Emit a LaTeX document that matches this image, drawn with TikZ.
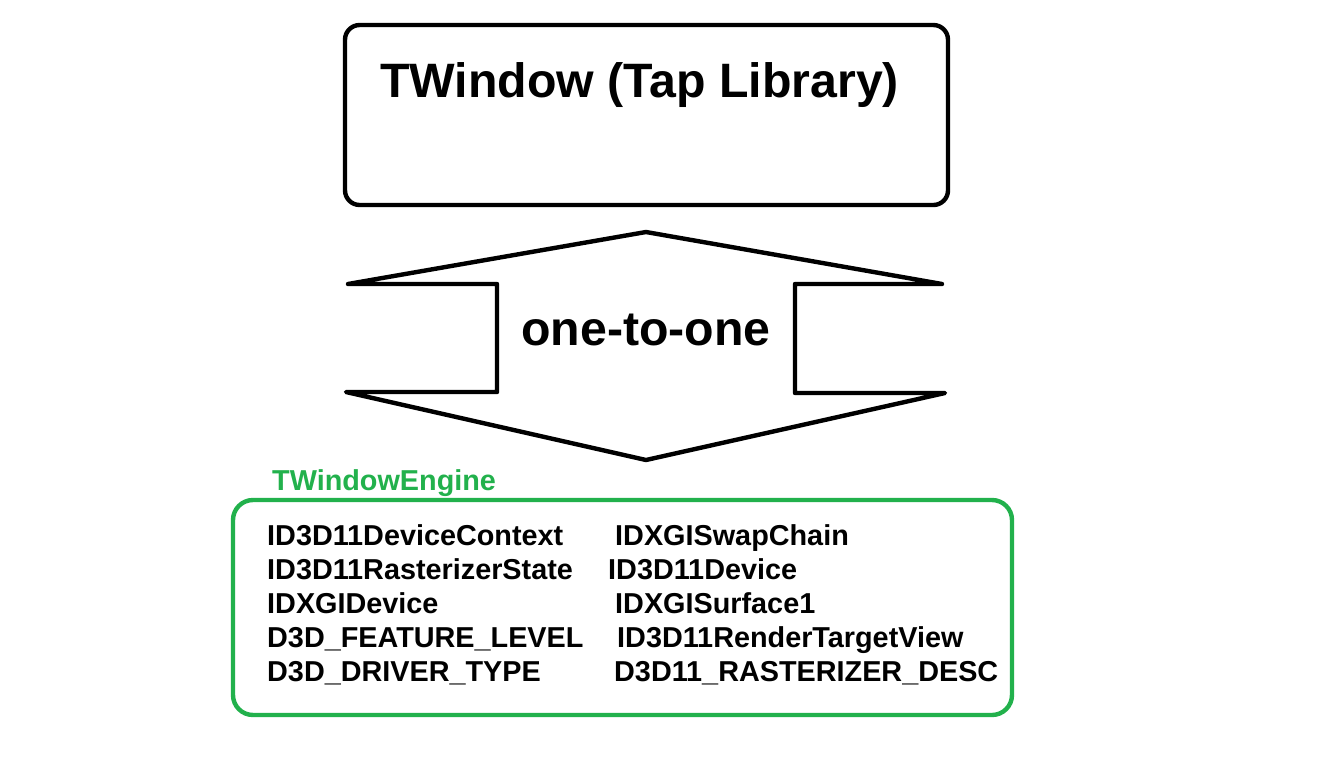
\documentclass[tikz,border=0pt]{standalone}
\usepackage{fontspec}
\setmainfont{Liberation Sans}
\definecolor{paintgreen}{RGB}{34,177,76}

\begin{document}
\begin{tikzpicture}[x=0.75pt, y=-0.75pt, line width=3.3pt, line join=round,
		big/.style={inner sep=0pt, font=\fontsize{36.2}{40}\selectfont\bfseries},
		item/.style={anchor=base west, inner sep=0pt, font=\fontsize{21.6}{24}\selectfont\bfseries}]
			\useasboundingbox (0, 0) rectangle (1340, 776);

			\draw[rounded corners=11pt] (345, 25) rectangle (948, 205);
			\draw (378, 97) 	node[big, anchor=base west] 	(title) 	{TWindow (Tap Library)};

			\draw (348, 284) -- (646, 232) -- (942, 284) -- (795, 284) -- (795, 393) -- (945, 393)
				-- (646, 460) -- (346, 392) -- (497, 392) -- (497, 284) -- cycle;
			\draw (646, 345) 	node[big, anchor=base] 	(link) 		{one-to-one};

			\draw (270, 490) 	node[item, text=paintgreen, font=\fontsize{21.6}{24}\selectfont\bfseries] 	(engine) 	{TWindowEngine};
			\draw[paintgreen, rounded corners=15pt] (233, 500) rectangle (1012, 715);

			\draw (265, 545) 	node[item] 	(context) 	{ID3D11DeviceContext};
			\draw (265, 579) 	node[item] 	(raster) 	{ID3D11RasterizerState};
			\draw (265, 613) 	node[item] 	(dxgidev) 	{IDXGIDevice};
			\draw (265, 647) 	node[item] 	(level) 	{D3D\_FEATURE\_LEVEL};
			\draw (265, 681) 	node[item] 	(driver) 	{D3D\_DRIVER\_TYPE};
			\draw (613, 545) 	node[item] 	(swap) 		{IDXGISwapChain};
			\draw (606, 579) 	node[item] 	(device) 	{ID3D11Device};
			\draw (613, 613) 	node[item] 	(surface) 	{IDXGISurface1};
			\draw (615, 647) 	node[item] 	(target) 	{ID3D11RenderTargetView};
			\draw (612, 681) 	node[item] 	(desc) 		{D3D11\_RASTERIZER\_DESC};
		\end{tikzpicture}
\end{document}
